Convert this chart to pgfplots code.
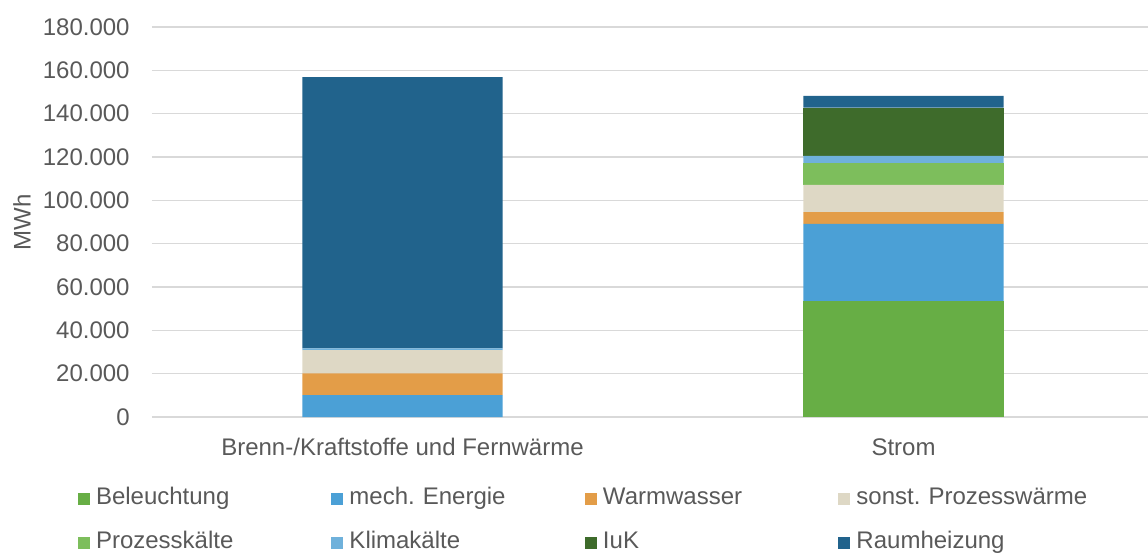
\documentclass[border=0pt]{standalone}
\usepackage{fontspec}
\setmainfont{Liberation Sans}
\usepackage{pgfplots}
\pgfplotsset{compat=1.18}
\frenchspacing
\definecolor{txt}{HTML}{595959}
\definecolor{cgrid}{HTML}{D9D9D9}
\definecolor{cBel}{HTML}{67AE45}
\definecolor{cMech}{HTML}{4BA0D6}
\definecolor{cWarm}{HTML}{E39D48}
\definecolor{cProzW}{HTML}{DED8C5}
\definecolor{cProzK}{HTML}{7DBE5C}
\definecolor{cKlima}{HTML}{6FB1DB}
\definecolor{cIuK}{HTML}{3E6B2B}
\definecolor{cRaum}{HTML}{21638C}
\begin{document}
\begin{tikzpicture}
\useasboundingbox (0,0) rectangle (574pt,-277pt);
\begin{axis}[
  at={(76pt,-208.5pt)}, anchor=south west,
  scale only axis, width=498pt, height=195pt,
  ybar stacked, bar width=0.4,
  xmin=-0.5, xmax=1.488, ymin=0, ymax=180000,
  xtick={0,1},
  xticklabels={Brenn-/Kraftstoffe und Fernwärme, Strom},
  ytick={0,20000,...,180000},
  scaled y ticks=false,
  /pgf/number format/.cd, fixed, 1000 sep={.}, assume math mode=true,
  /pgfplots/.cd,
  xmajorgrids=false, ymajorgrids=true,
  y grid style={draw=cgrid, line width=0.75pt},
  axis line style={draw=none},
  major tick length=0pt,
  xtick style={draw=none}, ytick style={draw=none},
  tick label style={font=\fontsize{12}{14}\selectfont, text=txt},
  xticklabel style={anchor=north, inner sep=0pt, text height=8.6pt, yshift=-10.2pt},
  yticklabel style={anchor=east, inner sep=0pt, xshift=-11pt},
  ylabel={MWh},
  every axis y label/.style={at={(axis description cs:-0.1305,0.5)}, anchor=center, rotate=90, font=\fontsize{12}{14}\selectfont, text=txt},
  legend columns=4,
  legend cell align=left,
  legend style={at={(axis description cs:-0.0743,-0.1805)}, anchor=north west, draw=none, fill=none, inner sep=0pt, outer sep=0pt,
    font=\fontsize{12}{14}\selectfont, text=txt, row sep=10.9pt, column sep=0pt,
    nodes={inner sep=0pt, text height=8.6pt, text depth=2.5pt, text width=117.75pt, align=left}},
  legend image code/.code={\fill[#1,draw=none] (0pt,-3pt) rectangle (6pt,3pt); \path (9pt,0pt);},
]
\addplot[fill=cBel, draw=none] coordinates {(0,0) (1,53500)};
\addlegendentry{Beleuchtung}
\addplot[fill=cMech, draw=none] coordinates {(0,10100) (1,35600)};
\addlegendentry{mech. Energie}
\addplot[fill=cWarm, draw=none] coordinates {(0,10000) (1,5500)};
\addlegendentry{Warmwasser}
\addplot[fill=cProzW, draw=none] coordinates {(0,10800) (1,12500)};
\addlegendentry{sonst. Prozesswärme}
\addplot[fill=cProzK, draw=none] coordinates {(0,0) (1,10100)};
\addlegendentry{Prozesskälte}
\addplot[fill=cKlima, draw=none] coordinates {(0,800) (1,3300)};
\addlegendentry{Klimakälte}
\addplot[fill=cIuK, draw=none] coordinates {(0,0) (1,22300)};
\addlegendentry{IuK}
\addplot[fill=cRaum, draw=none] coordinates {(0,125200) (1,5400)};
\addlegendentry{Raumheizung}
\end{axis}
\end{tikzpicture}
\end{document}
